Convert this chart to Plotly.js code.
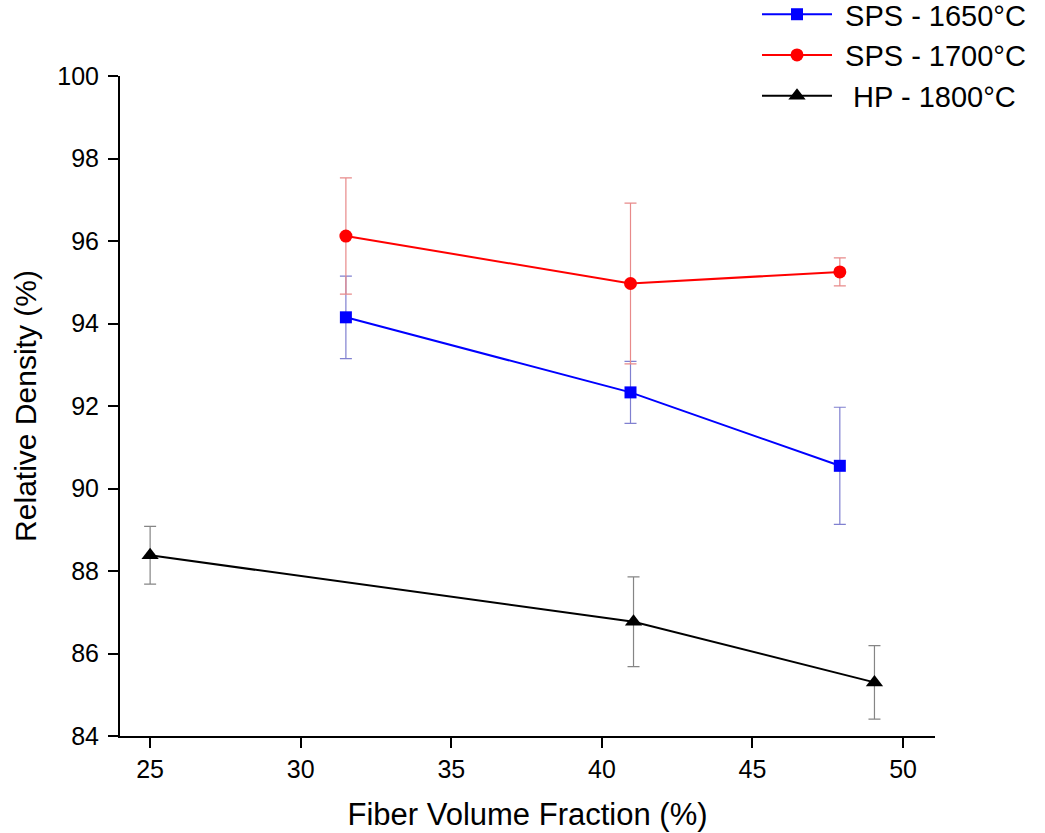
<!DOCTYPE html>
<html>
<head>
<meta charset="utf-8">
<script src="https://cdn.plot.ly/plotly-3.0.1.min.js"></script>
<style>html,body{margin:0;padding:0;background:#fff;}#chart{width:1045px;height:833px;}</style>
</head>
<body>
<div id="chart"></div>
<script>
// Data
const seriesNames = ["\u00a0SPS - 1650°C", "\u00a0SPS - 1700°C", "\u00a0\u00a0HP - 1800°C"];
const sps1650X = [31.5, 40.95, 47.9];
const sps1650Y = [94.15, 92.33, 90.55];
const sps1650Err = [1.0, 0.75, 1.42];
const sps1700X = [31.5, 40.95, 47.9];
const sps1700Y = [96.12, 94.97, 95.25];
const sps1700Err = [1.41, 1.95, 0.34];
const hpX = [25, 41.05, 49.05];
const hpY = [88.38, 86.77, 85.3];
const hpErr = [0.7, 1.09, 0.89];
const xTicks = [25, 30, 35, 40, 45, 50];
const yTicks = [84, 86, 88, 90, 92, 94, 96, 98, 100];

const font = "Liberation Sans, Arial, sans-serif";

const traces = [
  {
    x: sps1650X, y: sps1650Y, name: seriesNames[0], type: "scatter", mode: "lines+markers",
    line: {color: "#0000ff", width: 2},
    marker: {symbol: "square", size: 12, color: "#0000ff"},
    error_y: {type: "data", array: sps1650Err, visible: true, color: "#8080d0", thickness: 1.2, width: 6}
  },
  {
    x: sps1700X, y: sps1700Y, name: seriesNames[1], type: "scatter", mode: "lines+markers",
    line: {color: "#ff0000", width: 2},
    marker: {symbol: "circle", size: 13, color: "#ff0000"},
    error_y: {type: "data", array: sps1700Err, visible: true, color: "#e88a8a", thickness: 1.2, width: 6}
  },
  {
    x: hpX, y: hpY, name: seriesNames[2], type: "scatter", mode: "lines+markers",
    line: {color: "#000000", width: 2},
    marker: {symbol: "triangle-up", size: 15, color: "#000000"},
    error_y: {type: "data", array: hpErr, visible: true, color: "#858585", thickness: 1.2, width: 6}
  }
];

const layout = {
  width: 1045, height: 833,
  margin: {l: 120, r: 110, t: 76, b: 97, autoexpand: false},
  paper_bgcolor: "#ffffff", plot_bgcolor: "#ffffff",
  font: {family: font, color: "#000000", size: 25},
  showlegend: true,
  legend: {
    x: 0.7816, xanchor: "left", y: 1.132, yanchor: "top",
    font: {family: font, size: 29, color: "#000"},
    bgcolor: "rgba(0,0,0,0)", tracegroupgap: 0, itemwidth: 70
  },
  xaxis: {
    range: [24, 51.06], tickvals: xTicks, ticktext: xTicks.map(String),
    showline: true, linecolor: "#000", linewidth: 2, mirror: false,
    ticks: "outside", ticklen: 10, tickwidth: 2, tickcolor: "#000",
    showgrid: false, zeroline: false,
    tickfont: {family: font, size: 25},
    title: {text: "Fiber Volume Fraction (%)", font: {family: font, size: 31}, standoff: 21}
  },
  yaxis: {
    range: [84, 100], tickvals: yTicks, ticktext: yTicks.map(String),
    showline: true, linecolor: "#000", linewidth: 2, mirror: false,
    ticks: "outside", ticklen: 10, tickwidth: 2, tickcolor: "#000",
    ticklabelstandoff: 4,
    showgrid: false, zeroline: false,
    tickfont: {family: font, size: 25},
    title: {text: "Relative Density (%)", font: {family: font, size: 30}, standoff: 12}
  }
};

Plotly.newPlot("chart", traces, layout, {displayModeBar: false, staticPlot: true});
</script>
</body>
</html>
